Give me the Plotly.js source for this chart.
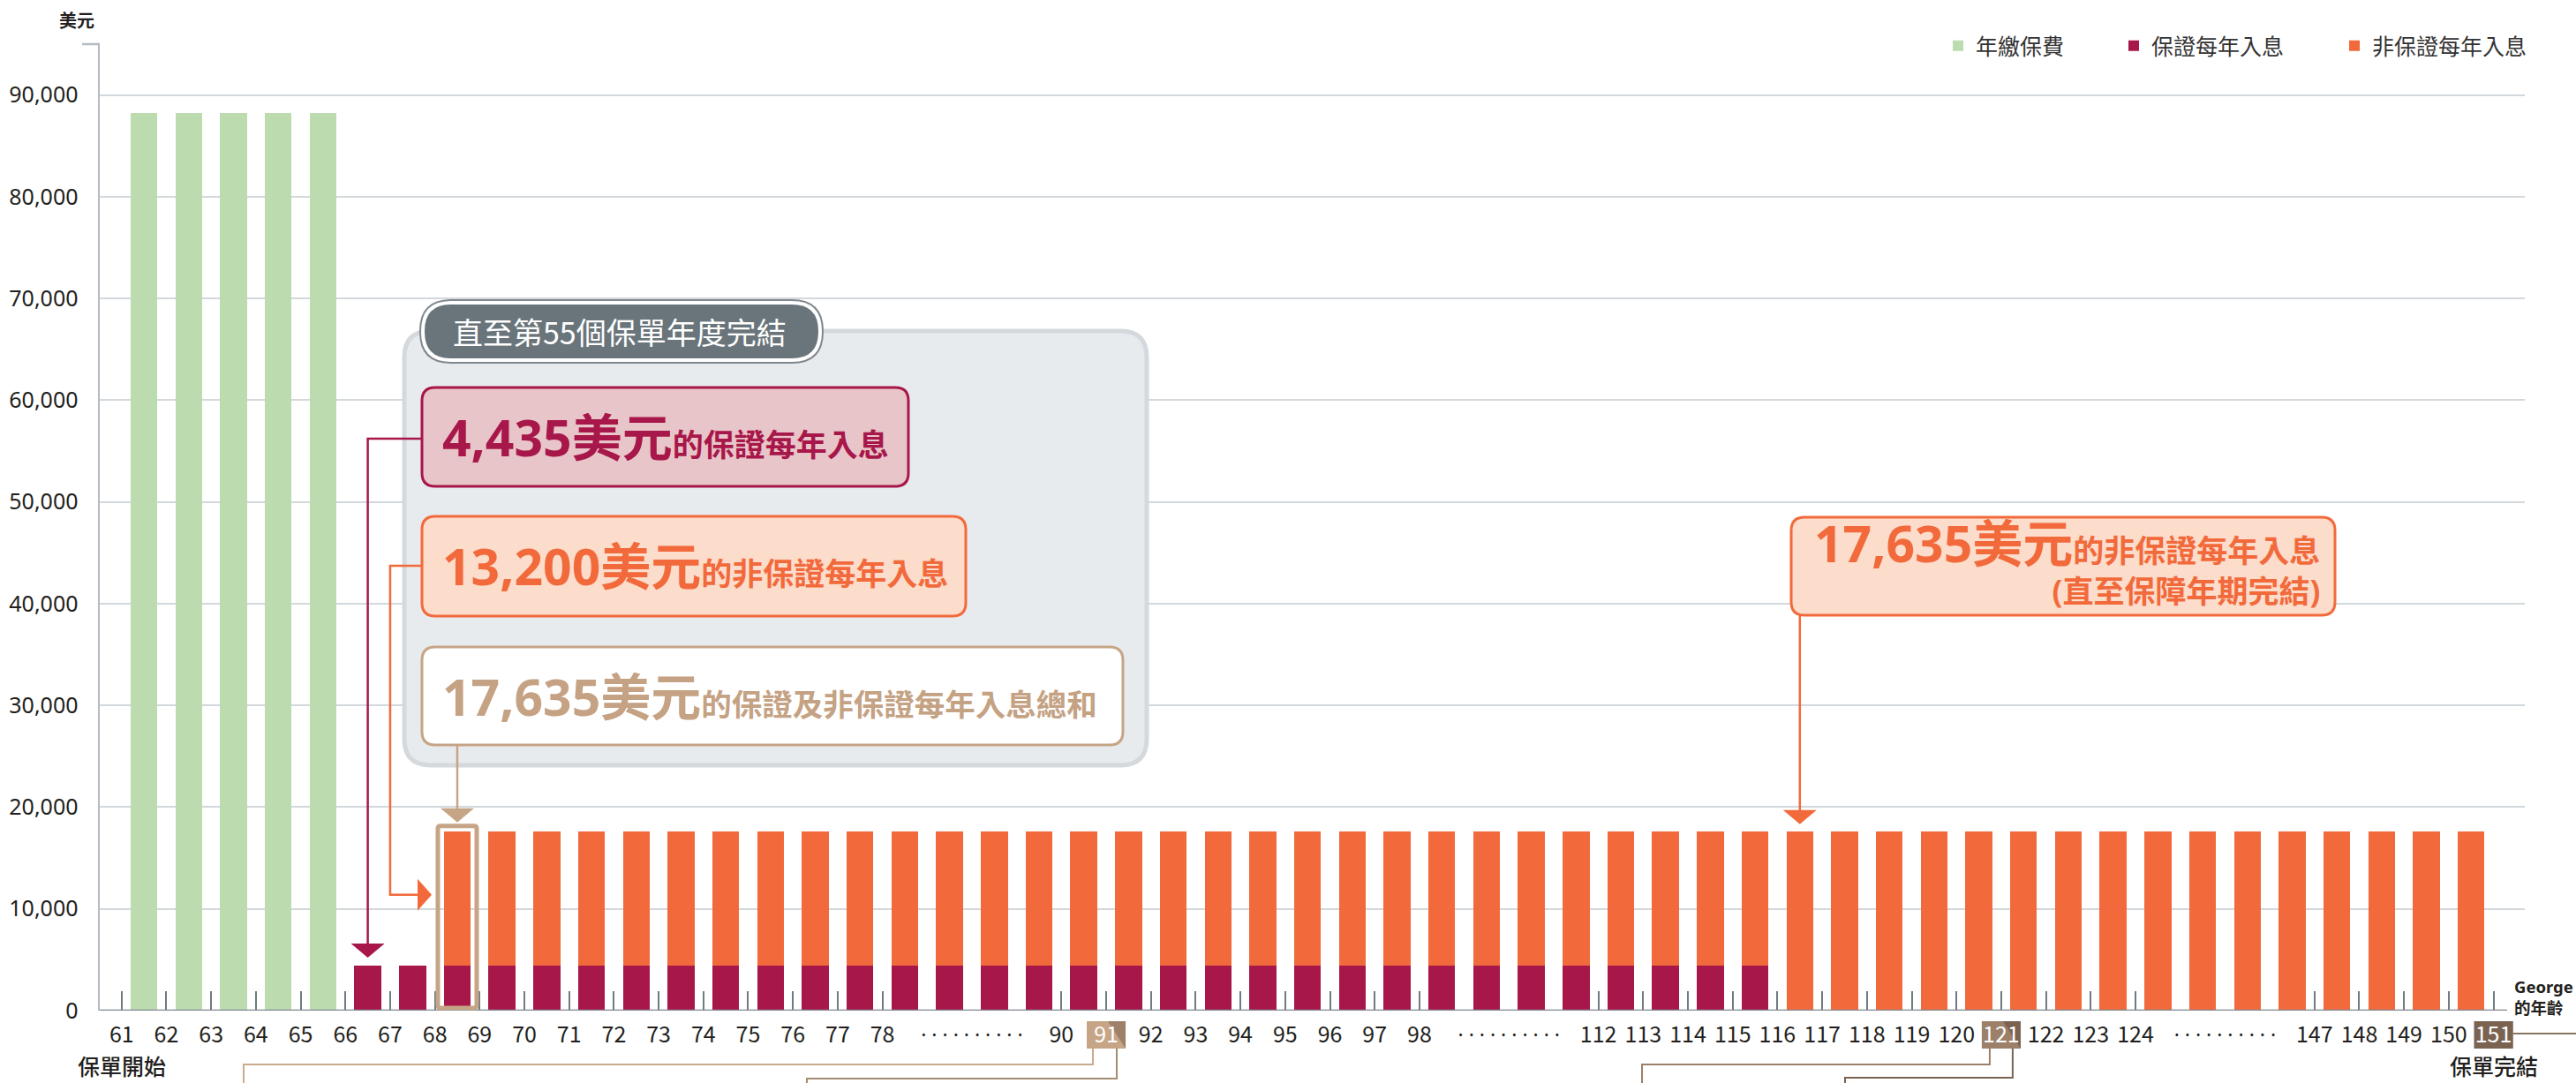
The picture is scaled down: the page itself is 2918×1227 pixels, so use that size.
<!DOCTYPE html>
<html>
<head>
<meta charset="utf-8">
<script src="https://cdn.plot.ly/plotly-3.0.1.min.js"></script>
<style>
html,body{margin:0;padding:0;background:#ffffff;}
#chart{width:2918px;height:1227px;}
</style>
</head>
<body>
<div id="chart"></div>
<script>
// ---------------- DATA ----------------
// Age tick labels along the compressed axis ('' = hidden ages in a "......" gap)
const ageLabels = ['61','62','63','64','65','66','67','68','69','70','71','72','73','74','75','76','77','78',
  '','','',
  '90','91','92','93','94','95','96','97','98',
  '','','',
  '112','113','114','115','116','117','118','119','120','121','122','123','124',
  '','','',
  '147','148','149','150','151'];
const gapMark = '· · · · · · · · · ·';
const markedAges = ['91','121','151'];
const seriesNames = ['年繳保費','保證每年入息','非保證每年入息'];

// One value per policy year (bar between two consecutive age ticks), in US$
const premium = [88200,88200,88200,88200,88200,
  null,null,null,null,null,null,null,null,null,null,null,null,
  null,null,null,null,null,null,null,null,null,null,null,null,
  null,null,null,null,null,null,null,null,null,null,null,null,
  null,null,null,null,null,null,null,null,null,null,null,null];
const guaranteed = [null,null,null,null,null,
  4435,4435,4435,4435,4435,4435,4435,4435,
  4435,4435,4435,4435,4435,4435,4435,4435,
  4435,4435,4435,4435,4435,4435,4435,4435,
  4435,4435,4435,4435,4435,4435,4435,4435,
  null,null,null,null,null,null,null,null,
  null,null,null,null,null,null,null,null];
const nonGuaranteed = [null,null,null,null,null,null,null,
  13200,13200,13200,13200,13200,13200,13200,13200,13200,13200,
  13200,13200,13200,13200,13200,13200,13200,13200,13200,13200,
  13200,13200,13200,13200,13200,13200,13200,13200,13200,13200,
  17635,17635,17635,17635,17635,17635,17635,17635,
  17635,17635,17635,17635,17635,17635,17635,17635];

// ---------------- GEOMETRY ----------------
const W = 2918, H = 1227, ML = 113, MR = 58, MT = 50, MB = 82;
const PW = W - ML - MR, PH = H - MT - MB;
const XR = [-0.489, 53.70], YR = [0, 95000];
const X = v => ML + (v - XR[0]) / (XR[1] - XR[0]) * PW;
const Y = v => MT + PH - (v - YR[0]) / (YR[1] - YR[0]) * PH;
const PX = p => (p - ML) / PW;
const PY = p => (MT + PH - p) / PH;
const P = (x, y) => PX(x).toFixed(5) + ',' + PY(y).toFixed(5);

function rrect(x0, y0, x1, y1, r) {
  return 'M' + P(x0 + r, y0) + ' L' + P(x1 - r, y0) + ' Q' + P(x1, y0) + ' ' + P(x1, y0 + r) +
    ' L' + P(x1, y1 - r) + ' Q' + P(x1, y1) + ' ' + P(x1 - r, y1) +
    ' L' + P(x0 + r, y1) + ' Q' + P(x0, y1) + ' ' + P(x0, y1 - r) +
    ' L' + P(x0, y0 + r) + ' Q' + P(x0, y0) + ' ' + P(x0 + r, y0) + ' Z';
}
function poly(pts, close) {
  return pts.map((p, i) => (i ? 'L' : 'M') + P(p[0], p[1])).join(' ') + (close ? ' Z' : '');
}

const FONT_LATIN = '"Noto Sans", "Noto Sans CJK TC", sans-serif';
const FONT_CJK = '"Noto Sans CJK TC", "Noto Sans", sans-serif';
const C_GREEN = '#bcdcb0', C_CRIMSON = '#a8174a', C_ORANGE = '#f26a3b', C_TAN = '#c6a586';

// ---------------- TRACES ----------------
const slots = premium.map((_, i) => i);
const barCommon = {type: 'bar', x: slots, width: 0.6, offset: 0.2, hoverinfo: 'skip'};
const traces = [
  Object.assign({}, barCommon, {y: premium, name: seriesNames[0], marker: {color: C_GREEN, line: {width: 0}}, legend: 'legend'}),
  Object.assign({}, barCommon, {y: guaranteed, name: seriesNames[1], marker: {color: C_CRIMSON, line: {width: 0}}, legend: 'legend2'}),
  Object.assign({}, barCommon, {y: nonGuaranteed, name: seriesNames[2], marker: {color: C_ORANGE, line: {width: 0}}, legend: 'legend3'}),
  {type: 'scatter', x: [], y: [], xaxis: 'x2', yaxis: 'y', showlegend: false, hoverinfo: 'skip'}
];

// ---------------- AXIS TICKS ----------------
const labelVals = [], labelText = [];
ageLabels.forEach((lab, i) => {
  if (lab !== '') {
    labelVals.push(i);
    labelText.push(markedAges.includes(lab) ? '<span style="color:#ffffff">' + lab + '</span>' : lab);
  }
});
const gapVals = [];
for (let i = 0; i < ageLabels.length; i++) {
  if (ageLabels[i] === '' && ageLabels[i - 1] === '' && ageLabels[i + 1] === '') gapVals.push(i);
}
const tickVals = labelVals.concat(gapVals);
const tickText = labelText.concat(gapVals.map(() => '<span style="font-family:Noto Sans;font-size:23px">' + gapMark + '</span>'));

// ---------------- KEY INDICES ----------------
const firstG = guaranteed.findIndex(v => v != null);                     // first guaranteed-only bar
const hi = nonGuaranteed.findIndex(v => v != null);                      // first bar with both
const ngOnly = nonGuaranteed.findIndex((v, i) => v != null && guaranteed[i] == null);
const fmt = v => v.toLocaleString('en-US');

// ---------------- SHAPES ----------------
const shapes = [];
shapes.push({type: 'line', xref: 'paper', yref: 'paper', x0: PX(93), x1: PX(113), y0: 1, y1: 1, line: {color: '#b3bbc1', width: 2.5}});
shapes.push({type: 'line', xref: 'paper', yref: 'y', x0: 0, x1: PX(2840), y0: 0, y1: 0, line: {color: '#7f8990', width: 2.5}, layer: 'above'});
shapes.push({type: 'path', xref: 'paper', yref: 'paper', path: rrect(458, 375, 1299, 867, 30), fillcolor: '#e8ebee', line: {color: '#d4d9dd', width: 5}, layer: 'above'});
shapes.push({type: 'path', xref: 'paper', yref: 'paper', path: rrect(476, 340, 932, 411, 35), fillcolor: '#ffffff', line: {color: '#7f888e', width: 2}, layer: 'above'});
shapes.push({type: 'path', xref: 'paper', yref: 'paper', path: rrect(481, 345, 927, 406, 30), fillcolor: '#6a757b', line: {width: 0}, layer: 'above'});
shapes.push({type: 'path', xref: 'paper', yref: 'paper', path: rrect(478, 439, 1029, 551, 15), fillcolor: '#e8c5c9', line: {color: C_CRIMSON, width: 3}, layer: 'above'});
shapes.push({type: 'path', xref: 'paper', yref: 'paper', path: rrect(478, 585, 1094, 698, 15), fillcolor: '#fcdccb', line: {color: C_ORANGE, width: 3}, layer: 'above'});
shapes.push({type: 'path', xref: 'paper', yref: 'paper', path: rrect(478, 733, 1272, 844, 15), fillcolor: '#ffffff', line: {color: C_TAN, width: 3}, layer: 'above'});
shapes.push({type: 'path', xref: 'paper', yref: 'paper', path: rrect(2029, 586, 2645, 697, 15), fillcolor: '#fcdccb', line: {color: C_ORANGE, width: 3}, layer: 'above'});

// arrow 1: guaranteed (crimson) -> first guaranteed bar
const a1x = X(firstG + 0.5), a1tip = Y(guaranteed[firstG]) - 9;
shapes.push({type: 'path', xref: 'paper', yref: 'paper', path: poly([[478, 497], [a1x, 497], [a1x, a1tip - 14]]), fillcolor: 'rgba(0,0,0,0)', line: {color: C_CRIMSON, width: 2.5}, layer: 'above'});
shapes.push({type: 'path', xref: 'paper', yref: 'paper', path: poly([[a1x - 19, a1tip - 16], [a1x + 19, a1tip - 16], [a1x, a1tip]], true), fillcolor: C_CRIMSON, line: {width: 0}, layer: 'above'});
// arrow 2: non-guaranteed (orange) -> highlighted bar
const a2x = X(firstG + 1), a2y = Y(guaranteed[hi] + nonGuaranteed[hi] / 2) - 4, a2tip = X(hi + 0.5) - 29;
shapes.push({type: 'path', xref: 'paper', yref: 'paper', path: poly([[478, 641], [a2x, 641], [a2x, a2y], [a2tip - 14, a2y]]), fillcolor: 'rgba(0,0,0,0)', line: {color: C_ORANGE, width: 2.5}, layer: 'above'});
shapes.push({type: 'path', xref: 'paper', yref: 'paper', path: poly([[a2tip - 16, a2y - 18], [a2tip - 16, a2y + 18], [a2tip, a2y]], true), fillcolor: C_ORANGE, line: {width: 0}, layer: 'above'});
// arrow 3: total (tan) -> highlighted bar + outline
const a3x = X(hi + 0.5), total = guaranteed[hi] + nonGuaranteed[hi];
const outTop = Y(total) - 6;
shapes.push({type: 'path', xref: 'paper', yref: 'paper', path: poly([[a3x, 844], [a3x, outTop - 18]]), fillcolor: 'rgba(0,0,0,0)', line: {color: C_TAN, width: 2.5}, layer: 'above'});
shapes.push({type: 'path', xref: 'paper', yref: 'paper', path: poly([[a3x - 19, outTop - 20], [a3x + 19, outTop - 20], [a3x, outTop - 4]], true), fillcolor: C_TAN, line: {width: 0}, layer: 'above'});
shapes.push({type: 'path', xref: 'paper', yref: 'paper', path: rrect(a3x - 22, outTop, a3x + 22, Y(0) - 3, 3), fillcolor: 'rgba(0,0,0,0)', line: {color: C_TAN, width: 5}, layer: 'above'});
// arrow 4: right orange box -> first non-guaranteed-only bar
const a4x = X(ngOnly + 0.5), a4tip = Y(nonGuaranteed[ngOnly]) - 8;
shapes.push({type: 'path', xref: 'paper', yref: 'paper', path: poly([[a4x, 697], [a4x, a4tip - 14]]), fillcolor: 'rgba(0,0,0,0)', line: {color: C_ORANGE, width: 2.5}, layer: 'above'});
shapes.push({type: 'path', xref: 'paper', yref: 'paper', path: poly([[a4x - 19, a4tip - 16], [a4x + 19, a4tip - 16], [a4x, a4tip]], true), fillcolor: C_ORANGE, line: {width: 0}, layer: 'above'});

// highlighted age labels + connector lines
const markStyle = {
  '91':  {light: '#c6a586', dark: '#9c8069', l1: '#c9ab8c', l2: '#a48b73', lines: [[-15, 1206, 276], [12, 1222, 914]]},
  '121': {light: '#9c8069', dark: '#7a6351', l1: '#9c8069', l2: '#7a6351', lines: [[-13, 1206, 1860], [13, 1221, 2090]]},
  '151': {light: '#7a6351', dark: '#7a6351', l1: '#8a7563', l2: '#8a7563', lines: []}
};
markedAges.forEach(lab => {
  const k = ageLabels.indexOf(lab), cx = X(k), st = markStyle[lab];
  const x0 = cx - 22, x1 = cx + 22, y0 = 1157, y1 = 1188;
  shapes.push({type: 'path', xref: 'paper', yref: 'paper', path: poly([[x0, y0], [x1, y0], [x1, y1], [x0, y1]], true), fillcolor: st.light, line: {width: 0}, layer: 'below'});
  shapes.push({type: 'path', xref: 'paper', yref: 'paper', path: poly([[x0 + 24, y0], [x1, y0], [x1, y1]], true), fillcolor: st.dark, line: {width: 0}, layer: 'below'});
  st.lines.forEach((ln, j) => {
    const sx = cx + ln[0];
    shapes.push({type: 'path', xref: 'paper', yref: 'paper', path: poly([[sx, y1], [sx, ln[1]], [ln[2], ln[1]], [ln[2], H + 5]]), fillcolor: 'rgba(0,0,0,0)', line: {color: j ? st.l2 : st.l1, width: 2}, layer: 'below'});
  });
  if (lab === '151') {
    shapes.push({type: 'line', xref: 'paper', yref: 'paper', x0: PX(x1), x1: PX(W + 5), y0: PY(1171), y1: PY(1171), line: {color: st.l1, width: 2}, layer: 'below'});
  }
});

// ---------------- ANNOTATIONS ----------------
const ann = (x, y, text, opts) => Object.assign({xref: 'paper', yref: 'paper', x: PX(x), y: PY(y), text: text, showarrow: false}, opts);
const big = s => '<span style="font-size:57px">' + s + '</span>';
const annotations = [
  ann(109, 23, '美元', {xanchor: 'right', yanchor: 'middle', font: {size: 20, family: FONT_CJK, color: '#231f20', weight: 600}}),
  ann(702, 376, '直至第55個保單年度完結', {xanchor: 'center', yanchor: 'middle', font: {size: 34, family: FONT_CJK, color: '#ffffff'}}),
  ann(499, 495, big(fmt(guaranteed[firstG]) + '美元') + '的保證每年入息', {xanchor: 'left', yanchor: 'middle', font: {size: 35, family: FONT_LATIN, color: C_CRIMSON, weight: 700}}),
  ann(499, 641, big(fmt(nonGuaranteed[hi]) + '美元') + '的非保證每年入息', {xanchor: 'left', yanchor: 'middle', font: {size: 35, family: FONT_LATIN, color: C_ORANGE, weight: 700}}),
  ann(499, 789, big(fmt(total) + '美元') + '的保證及非保證每年入息總和', {xanchor: 'left', yanchor: 'middle', font: {size: 34.5, family: FONT_LATIN, color: '#c4a283', weight: 700}}),
  ann(2630, 634, big(fmt(nonGuaranteed[ngOnly]) + '美元') + '的非保證每年入息<br>(直至保障年期完結)', {xanchor: 'right', yanchor: 'middle', align: 'right', font: {size: 35, family: FONT_LATIN, color: C_ORANGE, weight: 700}}),
  ann(X(0), 1207, '保單開始', {xanchor: 'center', yanchor: 'middle', font: {size: 25, family: FONT_CJK, color: '#231f20', weight: 500}}),
  ann(X(ageLabels.length - 1), 1207, '保單完結', {xanchor: 'center', yanchor: 'middle', font: {size: 25, family: FONT_CJK, color: '#231f20', weight: 500}}),
  ann(2846, 1129, 'George<br>的年齡', {xanchor: 'left', yanchor: 'middle', align: 'left', font: {size: 18.5, family: FONT_LATIN, color: '#231f20', weight: 700}})
];

// ---------------- LAYOUT ----------------
const legendBase = {orientation: 'h', xanchor: 'left', yanchor: 'middle', y: PY(52), bgcolor: 'rgba(0,0,0,0)',
  font: {size: 25, family: FONT_CJK, color: '#333333'}};
const layout = {
  width: W, height: H,
  margin: {l: ML, r: MR, t: MT, b: MB, pad: 0},
  paper_bgcolor: '#ffffff', plot_bgcolor: '#ffffff',
  barmode: 'stack', bargap: 0,
  showlegend: true,
  legend: Object.assign({}, legendBase, {x: PX(2198)}),
  legend2: Object.assign({}, legendBase, {x: PX(2397)}),
  legend3: Object.assign({}, legendBase, {x: PX(2647)}),
  xaxis: {range: XR, tickmode: 'array', tickvals: tickVals, ticktext: tickText, ticks: '', showgrid: false,
    zeroline: false, showline: false, fixedrange: true, ticklabelstandoff: 10,
    tickfont: {size: 25, family: FONT_CJK, color: '#231f20'}},
  xaxis2: {range: XR, overlaying: 'x', anchor: 'y', side: 'bottom', tickmode: 'array', tickvals: labelVals,
    showticklabels: false, ticks: 'inside', ticklen: 22, tickwidth: 2, tickcolor: '#6f7a81',
    showgrid: false, zeroline: false, showline: false, fixedrange: true},
  yaxis: {range: YR, tickmode: 'linear', tick0: 0, dtick: 10000, tickformat: ',', ticks: '',
    showgrid: true, gridcolor: '#d3d8dc', gridwidth: 2, zeroline: false,
    showline: true, linecolor: '#b3bbc1', linewidth: 2.5, fixedrange: true, ticklabelstandoff: 17,
    tickfont: {size: 25, family: FONT_LATIN, color: '#231f20'}},
  shapes: shapes,
  annotations: annotations
};

Plotly.newPlot('chart', traces, layout, {displayModeBar: false, staticPlot: true});
</script>
</body>
</html>
